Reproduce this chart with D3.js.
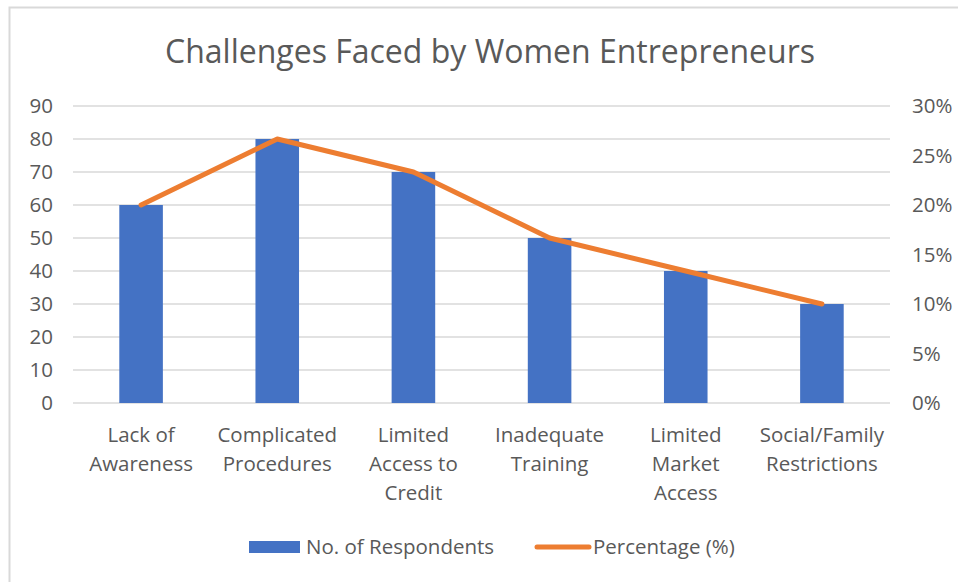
<!DOCTYPE html>
<html>
<head>
<meta charset="utf-8">
<script src="https://cdn.jsdelivr.net/npm/d3@7"></script>
<style>
  body { margin: 0; background: #fff; }
  text { font-family: "Open Sans", "Noto Sans", sans-serif; fill: #595959; }
</style>
</head>
<body>
<div id="chart"></div>
<script>
// data
const categories = ["Lack of Awareness", "Complicated Procedures", "Limited Access to Credit",
                    "Inadequate Training", "Limited Market Access", "Social/Family Restrictions"];
const labelLines = [["Lack of", "Awareness"], ["Complicated", "Procedures"], ["Limited", "Access to", "Credit"],
                    ["Inadequate", "Training"], ["Limited", "Market", "Access"], ["Social/Family", "Restrictions"]];
const respondents = [60, 80, 70, 50, 40, 30];
const percentage = [20, 26.67, 23.33, 16.67, 13.33, 10];
const leftTicks = [0, 10, 20, 30, 40, 50, 60, 70, 80, 90];
const rightTicks = [0, 5, 10, 15, 20, 25, 30];

const width = 958;
const height = 582;
const margin = { top: 106, right: 68, bottom: 179, left: 73 };
const fs = 20.5;

const svg = d3.select("#chart")
      .append("svg")
      .attr("width", width)
      .attr("height", height);

// chart frame
svg.append("path")
      .attr("d", `M9.5,${height} V7.5 H${width}`)
      .attr("fill", "none")
      .attr("stroke", "#d9d9d9")
      .attr("stroke-width", 2);

const x = d3.scaleBand()
      .domain(categories)
      .range([margin.left, width - margin.right])
      .paddingInner(0.68)
      .paddingOuter(0.34);

const y = d3.scaleLinear()
      .domain([0, 90])
      .range([height - margin.bottom, margin.top]);

const y2 = d3.scaleLinear()
      .domain([0, 30])
      .range([height - margin.bottom, margin.top]);

// gridlines
svg.append("g")
      .attr("stroke", "#d9d9d9")
      .attr("stroke-width", 1.5)
  .selectAll("line")
  .data(leftTicks)
  .join("line")
      .attr("x1", margin.left)
      .attr("x2", width - margin.right)
      .attr("y1", d => y(d))
      .attr("y2", d => y(d));

// left axis
const yAxis = g => g
      .attr("transform", `translate(${margin.left}, 0)`)
      .call(d3.axisLeft(y).tickValues(leftTicks).tickSize(0).tickPadding(20))
      .call(g => g.select(".domain").remove())
      .call(g => g.selectAll("text").attr("font-size", fs).attr("font-family", null));
svg.append("g").call(yAxis);

// right axis
const yAxis2 = g => g
      .attr("transform", `translate(${width - margin.right}, 0)`)
      .call(d3.axisRight(y2).tickValues(rightTicks).tickSize(0).tickPadding(22).tickFormat(d => d + "%"))
      .call(g => g.select(".domain").remove())
      .call(g => g.selectAll("text").attr("font-size", fs).attr("font-family", null));
svg.append("g").call(yAxis2);

// bars
svg.append("g")
      .attr("fill", "#4472c4")
  .selectAll("rect")
  .data(respondents)
  .join("rect")
      .attr("x", (d, i) => x(categories[i]))
      .attr("width", x.bandwidth())
      .attr("y", d => y(d))
      .attr("height", d => y(0) - y(d));

// line
const line = d3.line()
      .x((d, i) => x(categories[i]) + x.bandwidth() / 2)
      .y(d => y2(d));

svg.append("path")
      .datum(percentage)
      .attr("fill", "none")
      .attr("stroke", "#ed7d31")
      .attr("stroke-width", 5)
      .attr("stroke-linejoin", "round")
      .attr("stroke-linecap", "round")
      .attr("d", line);

// category labels
svg.append("g")
  .selectAll("text")
  .data(categories)
  .join("text")
      .attr("text-anchor", "middle")
      .attr("font-size", fs)
      .attr("x", d => x(d) + x.bandwidth() / 2)
      .attr("y", 442)
      .selectAll("tspan")
      .data((d, i) => labelLines[i])
      .join("tspan")
      .attr("x", function() { return this.parentNode.getAttribute("x"); })
      .attr("dy", (d, i) => i === 0 ? 0 : 29)
      .text(d => d);

// title
svg.append("text")
      .attr("x", 490)
      .attr("y", 63)
      .attr("text-anchor", "middle")
      .attr("font-size", 32)
      .text("Challenges Faced by Women Entrepreneurs");

// legend
const legend = svg.append("g");
legend.append("rect")
      .attr("x", 249)
      .attr("y", 541)
      .attr("width", 51)
      .attr("height", 12)
      .attr("fill", "#4472c4");
legend.append("text")
      .attr("x", 306)
      .attr("y", 554)
      .attr("font-size", fs)
      .text("No. of Respondents");
legend.append("line")
      .attr("x1", 537)
      .attr("x2", 589)
      .attr("y1", 547)
      .attr("y2", 547)
      .attr("stroke", "#ed7d31")
      .attr("stroke-width", 5)
      .attr("stroke-linecap", "round");
legend.append("text")
      .attr("x", 593)
      .attr("y", 554)
      .attr("font-size", fs)
      .text("Percentage (%)");
</script>
</body>
</html>
